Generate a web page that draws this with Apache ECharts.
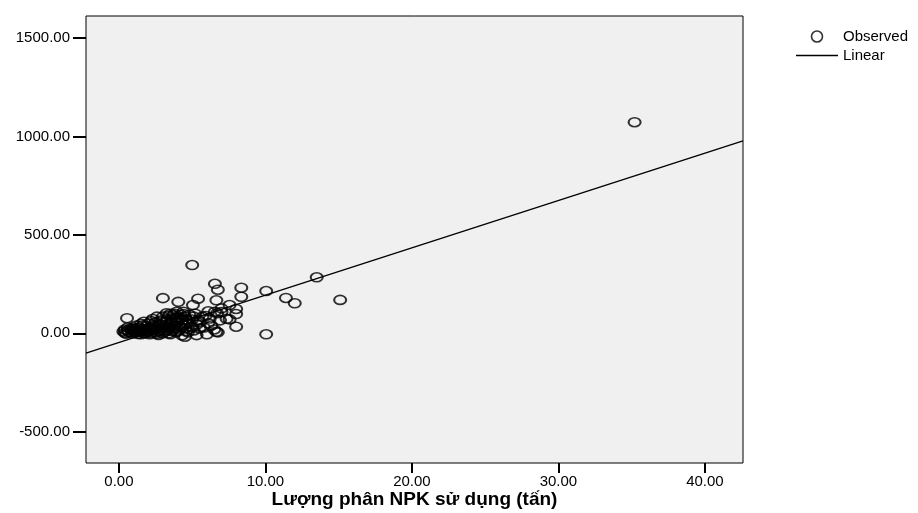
<!DOCTYPE html>
<html>
<head>
<meta charset="utf-8">
<script src="https://cdn.jsdelivr.net/npm/echarts@6/dist/echarts.min.js"></script>
<style>
  html, body { margin: 0; padding: 0; background: #fff; }
  #chart { width: 918px; height: 513px; }
</style>
</head>
<body>
<div id="chart"></div>
<script>
// observed points [NPK used (tấn), value]
const observed = [
  [35.2, 1073], [13.5, 285], [15.1, 170], [12.0, 153], [11.4, 180], [10.05, 215], [10.05, -5],
  [5.0, 347], [6.55, 252], [6.75, 222], [8.35, 232], [8.35, 186], [3.0, 179], [4.05, 160],
  [5.4, 176], [5.05, 144], [6.65, 168], [7.55, 144], [7.0, 127], [8.0, 124], [8.0, 98],
  [6.1, 112], [6.55, 110], [7.0, 108], [7.35, 74], [6.9, 66], [7.55, 71], [8.0, 34],
  [0.55, 77], [6.75, 5], [6.0, -5], [4.5, -17], [5.3, -9], [6.7, 102], [5.4, 68],
  [6.1, 51], [6.65, 8], [3.95, 110], [3.25, 102], [4.4, 110], [6.3, 40], [6.5, 20],
  [5.9, 88], [6.2, 75],
  [0.3, 10], [0.4, 20], [0.4, 3], [0.5, -2], [0.6, 15], [0.7, 5], [0.8, 25], [0.9, 0],
  [1.0, 12], [1.0, 30], [1.1, 5], [1.2, 18], [1.3, -3], [1.4, 28], [1.5, 10], [1.6, 40],
  [1.7, 59], [1.7, 2], [1.8, 20], [1.9, 35], [2.0, 8], [2.0, 50], [2.1, -5], [2.2, 25],
  [2.3, 73], [2.3, 15], [2.4, 40], [2.5, 5], [2.5, 55], [2.6, 30], [2.7, -8], [2.8, 20],
  [2.8, 65], [2.9, 45], [3.0, 0], [3.0, 85], [3.1, 30], [3.2, 60], [3.3, 15], [3.4, 90],
  [3.5, 45], [3.5, -5], [3.6, 75], [3.7, 25], [3.8, 100], [3.9, 55], [4.0, 10], [4.0, 80],
  [4.1, 40], [4.2, 95], [4.3, -10], [4.3, 65], [4.5, 25], [4.5, 85], [4.6, 50], [4.7, 5],
  [4.8, 95], [4.9, 35], [5.0, 70], [5.1, 15], [5.2, 100], [5.3, 45], [5.5, 59], [5.5, 25],
  [5.7, 85], [5.8, 30], [1.5, 48], [2.2, 62], [2.6, 85], [3.3, 72], [3.7, 92], [4.1, 20],
  [1.2, 40], [1.4, 8], [1.6, 22], [1.8, 0], [1.9, 12], [2.1, 30], [2.2, 2], [2.4, 18],
  [2.5, 35], [2.7, 10], [2.9, 28], [3.1, 8], [3.2, 40], [3.4, 0], [3.4, 30], [3.6, 12],
  [3.8, 40], [3.9, 5], [4.0, 60], [4.2, 28], [4.4, 45], [4.6, 12], [4.8, 60], [5.0, 30],
  [3.6, 55], [3.9, 75], [4.2, 80], [4.6, 70], [2.9, 60], [3.5, 100], [4.4, 98], [5.1, 85],
  [0.6, 30], [0.9, 18], [1.1, 22], [1.3, 12], [1.5, -5], [2.0, 20], [2.6, -2], [3.0, 15]
]
// fitted linear line, ends at the plot edges
const linear = [[-2.25, -100], [42.6, 978]]
const xTicks = [0, 10, 20, 30, 40]
const yTicks = [-500, 0, 500, 1000, 1500]

const font = 'Liberation Sans, Arial, sans-serif'
const chart = echarts.init(document.getElementById('chart'))
chart.setOption({
  animation: false,
  grid: {
    left: 86, right: 175, top: 16, bottom: 50,
    outerBoundsMode: 'none',
    containLabel: false,
    show: true,
    backgroundColor: '#f0f0f0',
    borderColor: '#000',
    borderWidth: 1
  },
  legend: {
    orient: 'vertical',
    left: 796,
    top: 29,
    itemWidth: 42,
    itemHeight: 11,
    itemGap: 4,
    padding: 0,
    textStyle: { fontFamily: font, fontSize: 15, color: '#000' },
    data: [
      { name: 'Observed', icon: 'circle',
        itemStyle: { color: 'transparent', borderColor: '#000', borderWidth: 1.6 } },
      { name: 'Linear', icon: 'path://M0,0 L100,0 L100,3 L0,3 Z',
        itemStyle: { color: '#000', borderWidth: 0 } }
    ]
  },
  xAxis: {
    type: 'value',
    min: -2.25,
    max: 42.6,
    name: 'Lượng phân NPK sử dụng (tấn)',
    nameLocation: 'middle',
    nameGap: 27,
    nameMoveOverlap: false,
    nameTextStyle: { fontFamily: font, fontSize: 19, fontWeight: 'bold', color: '#000' },
    axisLine: { show: false, onZero: false },
    axisTick: { show: true, length: 10, customValues: xTicks, lineStyle: { color: '#000', width: 2 } },
    axisLabel: {
      customValues: xTicks, margin: 11,
      fontFamily: font, fontSize: 15, color: '#000',
      formatter: (v) => v.toFixed(2)
    },
    splitLine: { show: false }
  },
  yAxis: {
    type: 'value',
    min: -659,
    max: 1613,
    axisLine: { show: false, onZero: false },
    axisTick: { show: true, length: 13, customValues: yTicks, lineStyle: { color: '#000', width: 2 } },
    axisLabel: {
      customValues: yTicks, margin: 16,
      fontFamily: font, fontSize: 15, color: '#000',
      formatter: (v) => v.toFixed(2)
    },
    splitLine: { show: false }
  },
  series: [
    {
      name: 'Observed',
      type: 'scatter',
      symbol: 'circle',
      symbolSize: [12, 9],
      itemStyle: { color: 'transparent', borderColor: '#000', borderWidth: 1.8 },
      data: observed
    },
    {
      name: 'Linear',
      type: 'line',
      symbol: 'none',
      clip: true,
      lineStyle: { color: '#000', width: 1.3 },
      data: linear
    }
  ]
})
</script>
</body>
</html>
